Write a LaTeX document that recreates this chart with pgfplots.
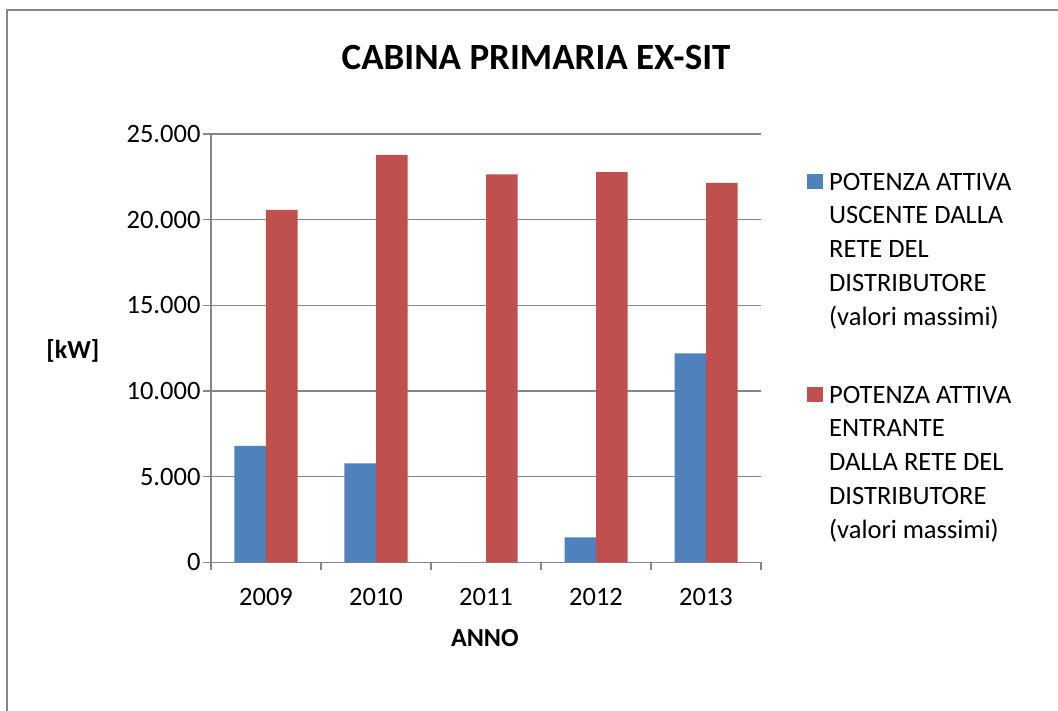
\documentclass[border=0pt]{standalone}
\usepackage{fontspec}
\setmainfont{Carlito}
\usepackage{pgfplots}
\pgfplotsset{compat=1.18}
\definecolor{barblue}{HTML}{4F81BD}
\definecolor{barred}{HTML}{C0504D}
\definecolor{gridgray}{HTML}{868686}
\begin{document}
\begin{tikzpicture}
\useasboundingbox (0pt,0pt) rectangle (1058pt,711pt);
\fill[white] (0pt,0pt) rectangle (1058pt,711pt);
\draw[line width=2pt, color=gridgray] (6.5pt,-20pt) rectangle (1080pt,701pt);
\begin{axis}[
  at={(211pt,148.7pt)}, anchor=south west,
  width=550pt, height=428.3pt, scale only axis,
  ybar=0pt, bar width=31.5pt,
  xmin=-0.5, xmax=4.5, ymin=0, ymax=25000,
  xtick={0,1,2,3,4}, xticklabels={2009,2010,2011,2012,2013},
  minor xtick={-0.5,0.5,1.5,2.5,3.5,4.5},
  ytick={0,5000,10000,15000,20000,25000},
  yticklabels={0,5.000,10.000,15.000,20.000,25.000},
  scaled y ticks=false,
  axis lines*=left,
  ymajorgrids, grid style={gridgray, line width=1.2pt},
  axis line style={gridgray, line width=1.2pt},
  tick align=outside,
  major tick length=8pt, minor tick length=8pt,
  major x tick style={draw=none},
  minor x tick style={gridgray, line width=1.2pt},
  major y tick style={gridgray, line width=1.2pt},
  ticklabel style={font=\fontsize{26.5}{31}\selectfont, text=black},
  xticklabel style={yshift=-14pt},
  yticklabel style={xshift=1pt},
  /pgf/number format/assume math mode=true,
  title={CABINA PRIMARIA EX-SIT},
  title style={font=\bfseries\fontsize{37}{42}\selectfont, at={(axis description cs:0.591,1.164)}, anchor=center},
  xlabel={ANNO},
  xlabel style={font=\bfseries\fontsize{26}{30}\selectfont, at={(axis description cs:0.498,-0.177)}, anchor=center},
  ylabel={[kW]},
  ylabel style={font=\bfseries\fontsize{26}{30}\selectfont, rotate=-90, at={(axis description cs:-0.251,0.493)}, anchor=center},
  legend style={draw=none, fill=none, inner sep=0pt,
    at={(axis description cs:1.0836,0.910)}, anchor=north west,
    cells={anchor=north west},
    nodes={align=left, inner sep=0pt, font=\fontsize{26.5}{33.75}\selectfont},
    /tikz/column sep=6pt, /tikz/row sep=59pt},
]
\addplot[fill=barblue, draw=none, legend image code/.code={\fill[barblue] (0pt,-16pt) rectangle (16pt,-1pt);}]
  coordinates {(0,6800) (1,5780) (2,0) (3,1460) (4,12200)};
\addlegendentry{POTENZA ATTIVA\\USCENTE DALLA\\RETE DEL\\DISTRIBUTORE\\(valori massimi)}
\addplot[fill=barred, draw=none, legend image code/.code={\fill[barred] (0pt,-16pt) rectangle (16pt,-1pt);}]
  coordinates {(0,20570) (1,23780) (2,22650) (3,22780) (4,22140)};
\addlegendentry{POTENZA ATTIVA\\ENTRANTE\\DALLA RETE DEL\\DISTRIBUTORE\\(valori massimi)}
\end{axis}
\end{tikzpicture}
\end{document}
